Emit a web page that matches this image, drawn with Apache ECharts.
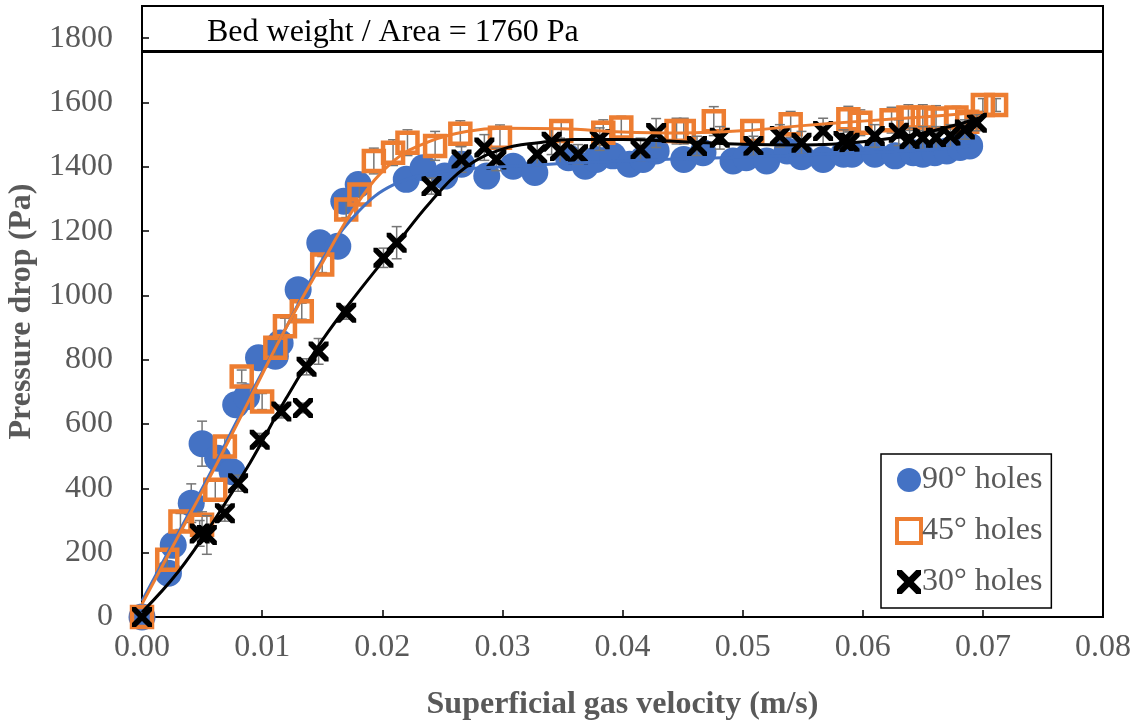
<!DOCTYPE html>
<html>
<head>
<meta charset="utf-8">
<script src="https://cdn.jsdelivr.net/npm/echarts@6/dist/echarts.min.js"></script>
<style>
  html, body { margin: 0; padding: 0; background: #fff; }
  #chart { width: 1140px; height: 724px; }
</style>
</head>
<body>
<div id="chart"></div>
<script>
// Measured points: [superficial gas velocity (m/s), pressure drop (Pa), error (Pa)]
const holes90 = [
  [0, 0, 0], [0.0022, 136, 25], [0.0026, 224, 40], [0.0041, 354, 60], [0.0050, 539, 70],
  [0.0063, 494, 30], [0.0075, 452, 30], [0.0078, 660, 30], [0.0087, 685, 30],
  [0.0097, 806, 25], [0.0111, 811, 30], [0.0115, 852, 25], [0.0130, 1018, 30],
  [0.0148, 1164, 25], [0.0163, 1153, 30], [0.0168, 1293, 30], [0.0180, 1345, 30],
  [0.0220, 1361, 30], [0.0234, 1397, 30], [0.0252, 1371, 30], [0.0266, 1408, 30],
  [0.0287, 1371, 30], [0.0309, 1402, 30], [0.0327, 1382, 30], [0.0355, 1428, 30],
  [0.0369, 1402, 30], [0.0378, 1423, 30], [0.0392, 1434, 30], [0.0406, 1408, 30],
  [0.0417, 1423, 30], [0.0428, 1449, 30], [0.0451, 1423, 30], [0.0467, 1444, 30],
  [0.0492, 1418, 30], [0.0503, 1428, 30], [0.0520, 1418, 30], [0.0537, 1449, 30],
  [0.0549, 1431, 30], [0.0567, 1423, 30], [0.0584, 1439, 30], [0.0591, 1439, 30],
  [0.0610, 1439, 30], [0.0627, 1434, 30], [0.0642, 1444, 30], [0.0650, 1439, 30],
  [0.0660, 1444, 30], [0.0670, 1449, 30], [0.0681, 1460, 30], [0.0689, 1465, 30]
];
const holes45 = [
  [0, 0, 0], [0.0021, 178, 30], [0.0032, 297, 25], [0.0050, 287, 40], [0.0061, 396, 30],
  [0.0069, 530, 30], [0.0083, 748, 20], [0.0100, 670, 25], [0.0111, 837, 25],
  [0.0119, 904, 25], [0.0133, 951, 25], [0.0150, 1096, 25], [0.0170, 1267, 25],
  [0.0181, 1314, 30], [0.0193, 1418, 40], [0.0209, 1444, 40], [0.0221, 1475, 40],
  [0.0244, 1465, 45], [0.0265, 1503, 40], [0.0298, 1490, 40], [0.0349, 1511, 35],
  [0.0384, 1506, 40], [0.0399, 1522, 35], [0.0445, 1511, 40], [0.0451, 1511, 40],
  [0.0476, 1542, 45], [0.0508, 1511, 35], [0.0540, 1532, 40], [0.0588, 1548, 40],
  [0.0598, 1537, 40], [0.0624, 1545, 40], [0.0638, 1553, 40], [0.0650, 1553, 40],
  [0.0661, 1550, 40], [0.0678, 1553, 35], [0.0687, 1540, 30], [0.0700, 1592, 20],
  [0.0711, 1592, 20]
];
const holes30 = [
  [0, 0, 0], [0.0048, 260, 40], [0.0054, 255, 60], [0.0069, 323, 25], [0.0080, 416, 25],
  [0.0098, 551, 20], [0.0116, 639, 20], [0.0134, 650, 15], [0.0137, 778, 25],
  [0.0147, 826, 40], [0.0170, 946, 20], [0.0201, 1117, 30], [0.0212, 1164, 50],
  [0.0241, 1340, 25], [0.0266, 1423, 40], [0.0285, 1460, 40], [0.0295, 1423, 35],
  [0.0329, 1439, 35], [0.0341, 1478, 40], [0.0348, 1449, 40], [0.0363, 1439, 30],
  [0.0381, 1486, 35], [0.0415, 1454, 35], [0.0428, 1505, 45], [0.0462, 1465, 30],
  [0.0481, 1490, 35], [0.0509, 1465, 30], [0.0531, 1496, 35], [0.0549, 1475, 35],
  [0.0567, 1511, 40], [0.0584, 1480, 35], [0.0589, 1475, 35], [0.0610, 1496, 35],
  [0.0630, 1506, 40], [0.0639, 1486, 35], [0.0650, 1490, 35], [0.0661, 1490, 35],
  [0.0673, 1496, 35], [0.0685, 1516, 30], [0.0695, 1537, 25]
];

// Fitted trend curves: [velocity, pressure]
const trend90 = [
  [0, 50], [0.003, 260], [0.006, 470], [0.009, 690], [0.012, 900], [0.015, 1110],
  [0.018, 1260], [0.021, 1345], [0.025, 1385], [0.030, 1400], [0.035, 1410],
  [0.040, 1418], [0.045, 1425], [0.050, 1430], [0.055, 1437], [0.060, 1443],
  [0.065, 1452], [0.069, 1465]
];
const trend45 = [
  [0, 40], [0.003, 250], [0.006, 460], [0.009, 680], [0.012, 900], [0.015, 1100],
  [0.018, 1290], [0.021, 1420], [0.024, 1480], [0.027, 1510], [0.030, 1520],
  [0.035, 1518], [0.040, 1508], [0.045, 1505], [0.050, 1512], [0.055, 1528],
  [0.060, 1542], [0.065, 1555], [0.070, 1570]
];
const trend30 = [
  [0, 15], [0.003, 140], [0.006, 300], [0.009, 480], [0.012, 680], [0.015, 860],
  [0.018, 1010], [0.021, 1150], [0.024, 1290], [0.027, 1400], [0.030, 1455],
  [0.033, 1475], [0.036, 1485], [0.040, 1485], [0.045, 1478], [0.050, 1470],
  [0.055, 1468], [0.060, 1478], [0.065, 1505], [0.070, 1555]
];

const seriesNames = ['90° holes', '45° holes', '30° holes'];
const bedWeight = 1760;
const xTicks = { min: 0, max: 0.08, step: 0.01 };
const yTicks = { min: 0, max: 1900, step: 200 };

const FONT = "'Liberation Serif', 'Times New Roman', serif";
const GREY = '#595959';
const BLUE = '#4472C4';
const ORANGE = '#ED7D31';
const CROSS = 'path://M0,0 L4,0 L10,6 L16,0 L20,0 L20,4 L14,10 L20,16 L20,20 L16,20 L10,14 L4,20 L0,20 L0,16 L6,10 L0,4 Z';

// Vertical error bars with caps, drawn through the axes' own coordinate mapping
function errorBars(points, z) {
  return {
    type: 'custom',
    z: z,
    silent: true,
    data: points.filter(p => p[2] > 0),
    renderItem: function (params, api) {
      const x = api.value(0), y = api.value(1), e = api.value(2);
      const hi = api.coord([x, y + e]);
      const lo = api.coord([x, y - e]);
      const cap = 5;
      const style = { stroke: '#767676', lineWidth: 1.5 };
      return {
        type: 'group',
        children: [
          { type: 'line', shape: { x1: hi[0], y1: hi[1], x2: lo[0], y2: lo[1] }, style },
          { type: 'line', shape: { x1: hi[0] - cap, y1: hi[1], x2: hi[0] + cap, y2: hi[1] }, style },
          { type: 'line', shape: { x1: lo[0] - cap, y1: lo[1], x2: lo[0] + cap, y2: lo[1] }, style }
        ]
      };
    }
  };
}

function trendLine(points, color, z, extra) {
  return Object.assign({
    type: 'line',
    data: points,
    smooth: 0.4,
    symbol: 'none',
    silent: true,
    z: z,
    lineStyle: { color: color, width: 3 }
  }, extra || {});
}

const chart = echarts.init(document.getElementById('chart'), null, { renderer: 'canvas' });

chart.setOption({
  animation: false,
  backgroundColor: '#fff',
  grid: {
    left: 142, right: 37, top: 6, bottom: 107,
    outerBoundsMode: 'none',
    containLabel: false,
    show: true, borderColor: '#000', borderWidth: 2, backgroundColor: 'transparent'
  },
  xAxis: {
    type: 'value',
    min: xTicks.min, max: xTicks.max, interval: xTicks.step,
    name: 'Superficial gas velocity (m/s)',
    nameLocation: 'middle',
    nameGap: 72,
    nameTextStyle: { fontFamily: FONT, fontSize: 32, fontWeight: 'bold', color: GREY },
    axisLine: { lineStyle: { color: '#000', width: 2 } },
    axisTick: { inside: true, length: 7, lineStyle: { color: '#000', width: 1.5 } },
    splitLine: { show: false },
    axisLabel: {
      margin: 15, fontFamily: FONT, fontSize: 32, color: GREY,
      formatter: v => v.toFixed(2)
    }
  },
  yAxis: {
    type: 'value',
    min: yTicks.min, max: yTicks.max, interval: yTicks.step,
    name: 'Pressure drop (Pa)',
    nameLocation: 'middle',
    nameGap: 96,
    nameTextStyle: { fontFamily: FONT, fontSize: 32, fontWeight: 'bold', color: GREY },
    axisLine: { lineStyle: { color: '#000', width: 2 } },
    axisTick: { inside: true, length: 7, lineStyle: { color: '#000', width: 1.5 } },
    splitLine: { show: false },
    axisLabel: {
      margin: 29, fontFamily: FONT, fontSize: 32, color: GREY,
      showMaxLabel: false,
      formatter: v => String(v)
    }
  },
  legend: {
    data: [
      { name: seriesNames[0], itemStyle: { color: BLUE } },
      { name: seriesNames[1], itemStyle: { color: '#fff', borderColor: ORANGE, borderWidth: 4 } },
      { name: seriesNames[2], itemStyle: { color: '#000' } }
    ],
    orient: 'vertical',
    left: 881, top: 454,
    padding: [10, 9, 10, 14],
    itemGap: 19,
    itemWidth: 24, itemHeight: 24,
    borderColor: '#000', borderWidth: 1.5,
    backgroundColor: '#fff',
    textStyle: { fontFamily: FONT, fontSize: 32, lineHeight: 32, color: GREY, padding: [0, 0, 0, -4] }
  },
  series: [
    errorBars(holes90, 2),
    {
      name: seriesNames[0], type: 'scatter', z: 3,
      data: holes90.map(p => [p[0], p[1]]),
      symbol: 'circle', symbolSize: 27,
      itemStyle: { color: BLUE, opacity: 1 }
    },
    errorBars(holes45, 4),
    {
      name: seriesNames[1], type: 'scatter', z: 4,
      data: holes45.map(p => [p[0], p[1]]),
      symbol: 'rect', symbolSize: 20,
      itemStyle: { color: 'rgba(255,255,255,0)', borderColor: ORANGE, borderWidth: 4.5, opacity: 1 }
    },
    errorBars(holes30, 6),
    {
      name: seriesNames[2], type: 'scatter', z: 6,
      data: holes30.map(p => [p[0], p[1]]),
      symbol: CROSS, symbolSize: 20,
      itemStyle: { color: '#000', opacity: 1 }
    },
    trendLine(trend90, BLUE, 7),
    trendLine(trend45, ORANGE, 8),
    trendLine(trend30, '#000', 9, {
      markLine: {
        silent: true,
        symbol: 'none',
        data: [{ yAxis: bedWeight }],
        lineStyle: { color: '#000', width: 3, type: 'solid' },
        label: {
          position: 'insideStartTop',
          formatter: 'Bed weight / Area = ' + bedWeight + ' Pa',
          fontFamily: FONT, fontSize: 32, color: '#000',
          offset: [60, 3]
        }
      }
    })
  ]
});
</script>
</body>
</html>
